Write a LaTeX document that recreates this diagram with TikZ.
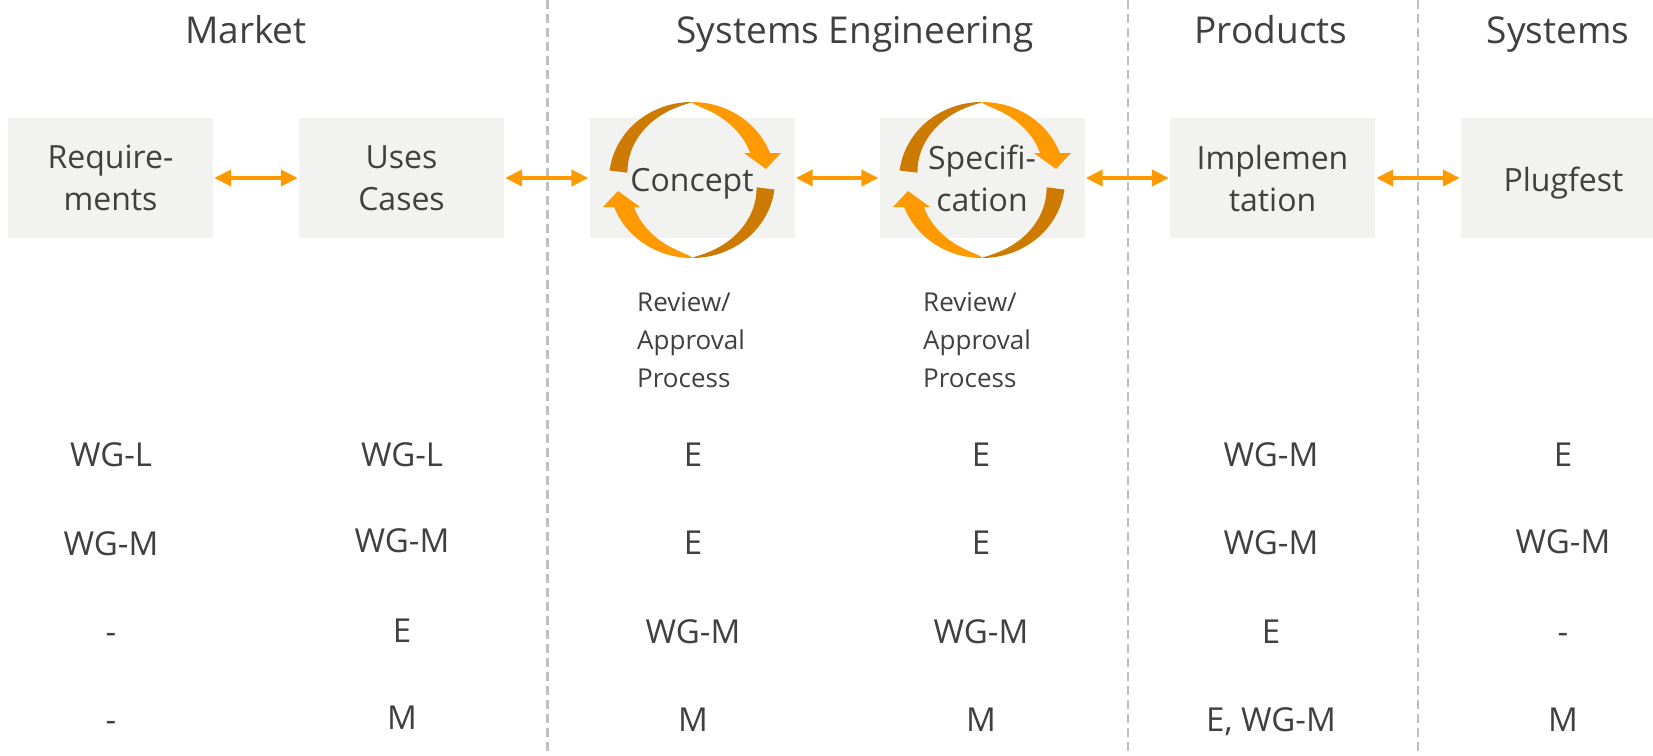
\documentclass[tikz,border=0pt]{standalone}
\usepackage{fontspec}
\setmainfont{Open Sans}
\usetikzlibrary{arrows.meta}
\definecolor{txt}{HTML}{404040}
\definecolor{boxg}{HTML}{F2F2F0}
\definecolor{orL}{HTML}{FF9900}
\definecolor{orD}{HTML}{CC7A00}
\definecolor{sepg}{HTML}{BFBFBF}
\newcommand{\halfcyc}{%
  \fill[orD] plot[domain=90:173,samples=60] ({83*cos(\x)},{78*sin(\x)})
    -- plot[domain=173:90,samples=60] ({(83-18*pow(max(0.0001,(\x-90)/83),0.75))*cos(\x)},{(78-18*pow(max(0.0001,(\x-90)/83),0.75))*sin(\x)}) -- cycle;
  \fill[orL] plot[domain=20.3:90,samples=60] ({83*cos(\x)},{78*sin(\x)})
    -- plot[domain=90:26.7,samples=60] ({(83-18*pow(max(0.0001,min(1,(90-\x)/63.3)),0.6))*cos(\x)},{(78-18*pow(max(0.0001,min(1,(90-\x)/63.3)),0.6))*sin(\x)}) -- cycle;
  \fill[orL] (52,27) -- (89,27) -- (74,11) -- cycle;
}
\tikzset{
  box/.style={fill=boxg, minimum width=205pt, minimum height=120pt, inner sep=0pt,
    align=center, text=txt, font=\fontsize{32}{42}\selectfont},
  oneline/.style={text height=27pt, text depth=0pt},
  link/.style={draw=orL, line width=4pt, shorten >=1pt, shorten <=1pt,
    {Triangle[length=17pt,width=16pt]}-{Triangle[length=17pt,width=16pt]}},
  head/.style={anchor=base, inner sep=0pt, text=txt, font=\fontsize{37}{44}\selectfont},
  cell/.style={anchor=center, inner sep=0pt, text height=23.5pt, text depth=0pt,
    text=txt, font=\fontsize{33}{40}\selectfont},
  rev/.style={anchor=west, inner sep=0pt, align=left, text=txt, font=\fontsize{26}{38}\selectfont},
  sepline/.style={draw=sepg, line width=2.5pt, dash pattern=on 9pt off 5pt}
}
\begin{document}
\begin{tikzpicture}[x=1pt,y=-1pt]
\clip (0,0) rectangle (1653,755);
\fill[white] (0,0) rectangle (1653,755);
% separators
\coordinate (s1t) at (547.5,0); \coordinate (s1b) at (547.5,755);
\coordinate (s2t) at (1128,0); \coordinate (s2b) at (1128,755);
\coordinate (s3t) at (1418,0); \coordinate (s3b) at (1418,755);
\draw[sepline] (s1t) -- (s1b);
\draw[sepline] (s2t) -- (s2b);
\draw[sepline] (s3t) -- (s3b);
% headers
\node[head] (hmarket) at (246,43.5) {Market};
\node[head] (hse) at (855,43.5) {Systems Engineering};
\node[head] (hprod) at (1271,43.5) {Products};
\node[head] (hsys) at (1558,43.5) {Systems};
% boxes
\node[box] (req) at (110.5,178) {Require-\\ments};
\node[box] (uses) at (401.5,178) {Uses\\Cases};
\node[box,oneline] (conc) at (692,178) {Concept};
\node[box] (spec) at (982,178) {Specifi-\\cation};
\node[box] (impl) at (1272.5,178) {Implemen\\tation};
\node[box,oneline] (plug) at (1563.5,178) {Plugfest};
% links
\draw[link] (req) -- (uses);
\draw[link] (uses) -- (conc);
\draw[link] (conc) -- (spec);
\draw[link] (spec) -- (impl);
\draw[link] (impl) -- (plug);
% cycle arrows
\begin{scope}[shift={(692,180)},yscale=-1] \halfcyc \end{scope}
\begin{scope}[shift={(692,180)},yscale=-1,rotate=180] \halfcyc \end{scope}
\begin{scope}[shift={(982,180)},yscale=-1] \halfcyc \end{scope}
\begin{scope}[shift={(982,180)},yscale=-1,rotate=180] \halfcyc \end{scope}
% review notes
\node[rev] (rev1) at (637,340) {Review/\\Approval\\Process};
\node[rev] (rev2) at (923,340) {Review/\\Approval\\Process};
% rows
\node[cell] (r1c1) at (111,455) {WG-L};
\node[cell] (r1c2) at (402,455) {WG-L};
\node[cell] (r1c3) at (693,455) {E};
\node[cell] (r1c4) at (981,455) {E};
\node[cell] (r1c5) at (1271,455) {WG-M};
\node[cell] (r1c6) at (1563,455) {E};
\node[cell] (r2c1) at (111,544) {WG-M};
\node[cell] (r2c2) at (402,541) {WG-M};
\node[cell] (r2c3) at (693,543) {E};
\node[cell] (r2c4) at (981,543) {E};
\node[cell] (r2c5) at (1271,543) {WG-M};
\node[cell] (r2c6) at (1563,542) {WG-M};
\node[cell] (r3c1) at (111,632) {-};
\node[cell] (r3c2) at (402,631) {E};
\node[cell] (r3c3) at (693,632) {WG-M};
\node[cell] (r3c4) at (981,632) {WG-M};
\node[cell] (r3c5) at (1271,632) {E};
\node[cell] (r3c6) at (1563,632) {-};
\node[cell] (r4c1) at (111,720) {-};
\node[cell] (r4c2) at (402,718) {M};
\node[cell] (r4c3) at (693,720) {M};
\node[cell] (r4c4) at (981,720) {M};
\node[cell] (r4c5) at (1271,720) {E, WG-M};
\node[cell] (r4c6) at (1563,720) {M};
\end{tikzpicture}
\end{document}
